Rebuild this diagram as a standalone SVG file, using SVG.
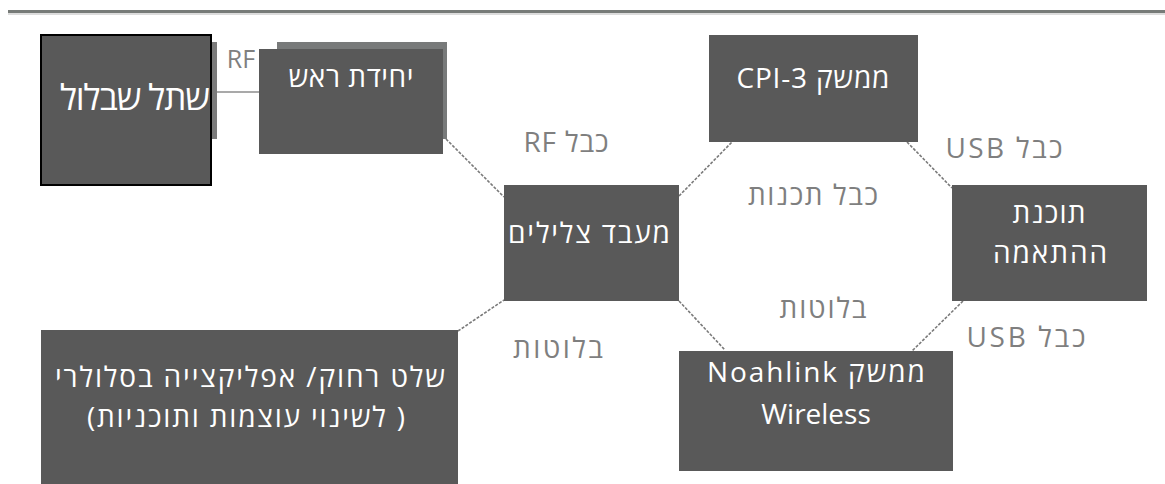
<svg xmlns="http://www.w3.org/2000/svg" width="1165" height="484" viewBox="0 0 1165 484">
<style>
.box{fill:#595959;}
.t{font-family:"Open Sans","DejaVu Sans",sans-serif;fill:#ffffff;font-size:28px;text-anchor:middle;direction:rtl;unicode-bidi:embed;}
.lbl{font-family:"Open Sans","DejaVu Sans",sans-serif;fill:#7f7f7f;font-size:28px;text-anchor:middle;direction:rtl;unicode-bidi:embed;}
.c{stroke:#7a7a7a;stroke-width:1.6;stroke-dasharray:3 1.5;fill:none;}
</style>
<rect x="8" y="10" width="1157" height="3" fill="#777b78"/>
<rect x="8" y="13" width="1157" height="2" fill="#dcdcdc"/>
<g id="connectors">
<line class="c" x1="446" y1="139" x2="504" y2="197"/>
<line class="c" x1="679" y1="196" x2="732" y2="142"/>
<line class="c" x1="907" y1="142" x2="952" y2="188"/>
<line class="c" x1="679" y1="301" x2="725" y2="350"/>
<line class="c" x1="963" y1="301" x2="912" y2="351"/>
<line class="c" x1="458" y1="331" x2="504" y2="300"/>
<line x1="217" y1="92" x2="259" y2="92" stroke="#8c8c8c" stroke-width="1.5"/>
</g>
<g id="labels">
<text class="lbl" x="241" y="68" style="direction:ltr;font-size:25px">RF</text>
<text class="lbl" x="566" y="152" textLength="85">כבל RF</text>
<text class="lbl" x="1004" y="158" textLength="117">כבל  USB</text>
<text class="lbl" x="813" y="205" textLength="130">כבל תכנות</text>
<text class="lbl" x="823" y="318" textLength="87">בלוטות</text>
<text class="lbl" x="1026" y="347" textLength="119">כבל  USB</text>
<text class="lbl" x="558" y="358" textLength="90">בלוטות</text>
</g>
<g id="cochlear">
<rect x="41" y="35" width="170" height="150" class="box" stroke="#000" stroke-width="2"/>
<rect x="212" y="42" width="5" height="97" fill="#7b7b7b"/>
<text class="t" x="135" y="110" style="font-size:35px" textLength="150">שתל שבלול</text>
</g>
<g id="headunit">
<rect x="277" y="42" width="170" height="97" fill="#787a7a"/>
<rect x="259" y="49" width="184" height="105" class="box"/>
<text class="t" x="351" y="87" textLength="125">יחידת ראש</text>
</g>
<g id="processor">
<rect x="504" y="185" width="175" height="116" class="box"/>
<text class="t" x="589" y="243" textLength="162">מעבד צלילים</text>
</g>
<g id="cpi3">
<rect x="709" y="35" width="209" height="107" class="box"/>
<text class="t" x="813" y="88" textLength="153">ממשק CPI-3</text>
</g>
<g id="fitting">
<rect x="952" y="185" width="195" height="116" class="box"/>
<text class="t" x="1049" y="223" textLength="73">תוכנת</text>
<text class="t" x="1050" y="263" textLength="114">ההתאמה</text>
</g>
<g id="noahlink">
<rect x="679" y="351" width="274" height="120" class="box"/>
<text class="t" x="816" y="382" textLength="218">ממשק  Noahlink</text>
<text class="t" x="816" y="424" style="direction:ltr">Wireless</text>
</g>
<g id="remote">
<rect x="41" y="330" width="417" height="154" class="box"/>
<text class="t" x="250" y="387" textLength="390">שלט רחוק/ אפליקצייה בסלולרי</text>
<text class="t" x="246" y="427" textLength="318">( לשינוי עוצמות ותוכניות)</text>
</g>
</svg>
